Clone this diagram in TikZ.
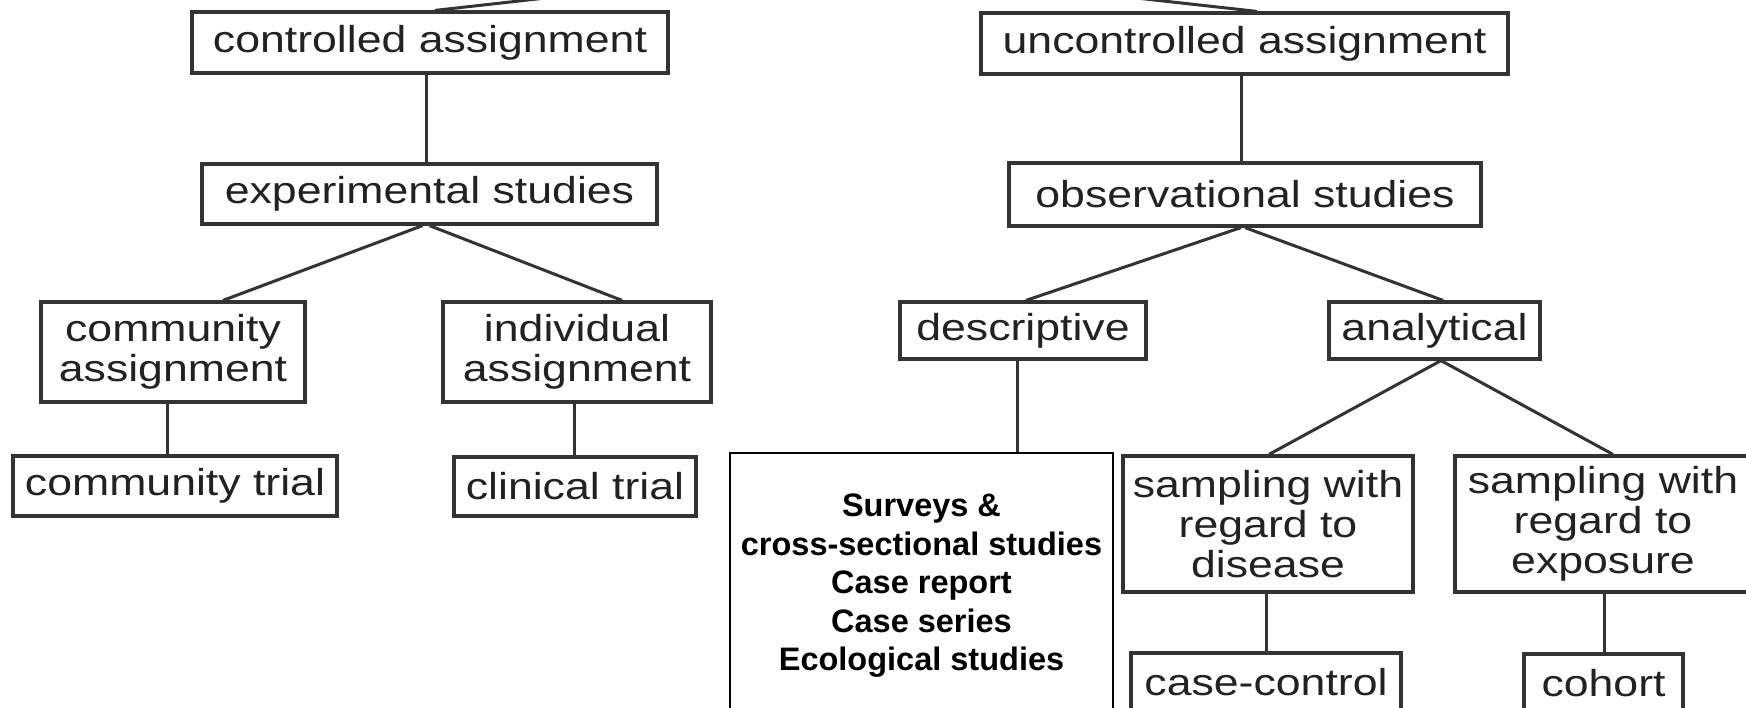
\documentclass[tikz,border=0pt]{standalone}
\usepackage{fontspec}
\setmainfont{Liberation Sans}
\newfontfamily\regfont[FakeStretch=1.19]{Liberation Sans}
\definecolor{boxgray}{HTML}{333333}
\definecolor{txtgray}{HTML}{222222}
\begin{document}
\begin{tikzpicture}[x=1pt,y=-1pt,
  box/.style={draw=boxgray, line width=3.2pt, inner sep=0pt, align=center,
    font=\regfont\fontsize{37.5}{40}\selectfont, text=txtgray},
  conn/.style={draw=boxgray, line width=3pt},
  bigbox/.style={draw=black, line width=2.2pt, inner sep=0pt},
  bigtext/.style={inner sep=0pt, align=center,
    font=\bfseries\fontsize{32.5}{38.5}\selectfont, text=black}]
\useasboundingbox (0,0) rectangle (1746,707);
\fill[white] (0,0) rectangle (1746,707);
% left tree
\node[box, minimum width=476pt, minimum height=61pt] (ctrl) at (430,42.5) {controlled assignment};
\node[box, minimum width=455pt, minimum height=60pt] (exp) at (429.5,194) {experimental studies};
\node[box, minimum width=264pt, minimum height=100pt] (comA) at (173,352) {community\\assignment};
\node[box, minimum width=268pt, minimum height=100pt] (indA) at (577,352) {individual\\assignment};
\node[box, minimum width=324pt, minimum height=60pt] (comT) at (175,486) {community trial};
\node[box, minimum width=242pt, minimum height=59pt] (clin) at (575,486.5) {clinical trial};
% right tree
\node[box, minimum width=527pt, minimum height=61pt] (unc) at (1244.5,43.5) {uncontrolled assignment};
\node[box, minimum width=472pt, minimum height=63pt] (obs) at (1245,194.5) {observational studies};
\node[box, minimum width=246pt, minimum height=57pt] (desc) at (1023,330.5) {descriptive};
\node[box, minimum width=211pt, minimum height=57pt] (anal) at (1434.5,330.5) {analytical};
\node[bigbox, minimum width=383pt, minimum height=260pt] (big) at (921.5,583) {};
\node[bigtext] (bigt) at (921.5,586)
  {Surveys \&\\cross-sectional studies\\Case report\\Case series\\Ecological studies};
\node[box, minimum width=290pt, minimum height=136pt] (sampD) at (1268,524) {sampling with\\regard to\\disease};
\node[box, minimum width=296pt, minimum height=136pt] (sampE) at (1603,524) {sampling with\\regard to\\exposure};
\node[box, minimum width=270pt, minimum height=58pt] (cc) at (1266,682) {case-control};
\node[box, minimum width=159pt, minimum height=58pt] (coh) at (1603.5,683) {cohort};
% dangling connectors to parents above the picture
\coordinate (tl) at (635,-12);
\coordinate (tr) at (1037,-13);
\draw[conn] ([xshift=5pt]ctrl.north) -- (tl);
\draw[conn] ([xshift=12.5pt]unc.north) -- (tr);
% left connectors
\draw[conn] ([xshift=-4pt]ctrl.south) -- ([xshift=-4pt]ctrl.south |- exp.north);
\draw[conn] ([xshift=-7pt]exp.south) -- ([xshift=50pt]comA.north);
\draw[conn] ([xshift=0pt]exp.south) -- ([xshift=45pt]indA.north);
\draw[conn] ([xshift=-6pt]comA.south) -- ([xshift=-6pt]comA.south |- comT.north);
\draw[conn] ([xshift=-3pt]indA.south) -- ([xshift=-3pt]indA.south |- clin.north);
% right connectors
\draw[conn] ([xshift=-3.5pt]unc.south) -- ([xshift=-3.5pt]unc.south |- obs.north);
\draw[conn] ([xshift=-4pt]obs.south) -- ([xshift=3pt]desc.north);
\draw[conn] ([xshift=0pt]obs.south) -- ([xshift=8.5pt]anal.north);
\draw[conn] ([xshift=-6pt]desc.south) -- ([xshift=-6pt]desc.south |- big.north);
\draw[conn] ([xshift=6.5pt]anal.south) -- ([xshift=1pt]sampD.north);
\draw[conn] ([xshift=6.5pt]anal.south) -- ([xshift=10pt]sampE.north);
\draw[conn] ([xshift=-2pt]sampD.south) -- ([xshift=-2pt]sampD.south |- cc.north);
\draw[conn] ([xshift=1pt]sampE.south) -- ([xshift=1pt]sampE.south |- coh.north);
\end{tikzpicture}
\end{document}
